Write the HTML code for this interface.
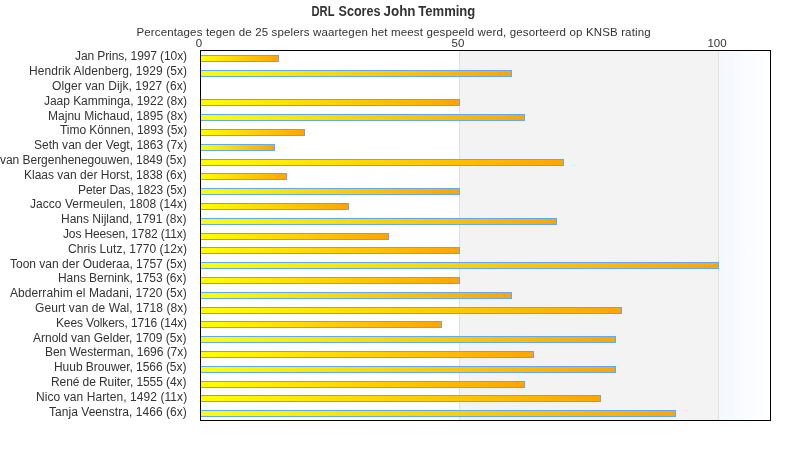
<!DOCTYPE html>
<html><head><meta charset="utf-8"><title>DRL Scores John Temming</title>
<style>
html,body{margin:0;padding:0;background:#fff;}
body{width:790px;height:450px;overflow:hidden;position:relative;font-family:"Liberation Sans",Arial,sans-serif;color:#333;}
.t{position:absolute;white-space:nowrap;line-height:1;will-change:transform;}
.lbl{position:absolute;will-change:transform;white-space:nowrap;line-height:14px;font-size:12px;right:602px;transform-origin:100% 50%;}
.ax{position:absolute;will-change:transform;white-space:nowrap;line-height:12px;font-size:11.5px;}
.bar{position:absolute;height:5px;border:1px solid #62a8fa;background:linear-gradient(to right,#ffff00,#ffa500);}
#frame{position:absolute;left:200px;top:50px;width:569px;height:369px;border:1px solid #000;z-index:5;}
.band{position:absolute;top:51px;height:369px;}
</style></head><body>
<svg width="790" height="24" style="position:absolute;left:0;top:0;will-change:transform"><g font-family="Liberation Sans, Arial, sans-serif" font-weight="bold" font-size="14" fill="#333"><text x="311.5" y="16" textLength="23" lengthAdjust="spacingAndGlyphs">DRL</text><text x="338.5" y="16" textLength="42" lengthAdjust="spacingAndGlyphs">Scores</text><text x="383.5" y="16" textLength="32" lengthAdjust="spacingAndGlyphs">John</text><text x="418.3" y="16" textLength="57" lengthAdjust="spacingAndGlyphs">Temming</text></g></svg>
<div class="t" style="left:0;width:787px;text-align:center;top:27px;font-size:11.5px;transform:translateX(0.10000000000002274px);letter-spacing:0.143px">Percentages tegen de 25 spelers waartegen het meest gespeeld werd, gesorteerd op KNSB rating</div>
<div class="ax" style="left:198.5px;width:40px;margin-left:-20px;text-align:center;top:37px;">0</div>
<div class="ax" style="left:457.5px;width:40px;margin-left:-20px;text-align:center;top:37px;">50</div>
<div class="ax" style="left:717px;width:40px;margin-left:-20px;text-align:center;top:37px;">100</div>
<div class="band" style="left:201px;width:258px;background:#fff"></div>
<div class="band" style="left:459px;width:1px;background:#e0e0e0"></div>
<div class="band" style="left:460px;width:258px;background:#f3f3f3"></div>
<div class="band" style="left:718px;width:1px;background:#e0e0e0"></div>
<div class="band" style="left:719px;width:51px;background:linear-gradient(to right,#f4f8fc,#ffffff)"></div>
<div class="bar" style="left:200px;top:55px;width:77px"></div>
<div class="bar" style="left:200px;top:70px;width:310px"></div>
<div class="bar" style="left:200px;top:99px;width:258px"></div>
<div class="bar" style="left:200px;top:114px;width:323px"></div>
<div class="bar" style="left:200px;top:129px;width:103px"></div>
<div class="bar" style="left:200px;top:144px;width:73px"></div>
<div class="bar" style="left:200px;top:159px;width:362px"></div>
<div class="bar" style="left:200px;top:173px;width:85px"></div>
<div class="bar" style="left:200px;top:188px;width:258px"></div>
<div class="bar" style="left:200px;top:203px;width:147px"></div>
<div class="bar" style="left:200px;top:218px;width:355px"></div>
<div class="bar" style="left:200px;top:233px;width:187px"></div>
<div class="bar" style="left:200px;top:247px;width:258px"></div>
<div class="bar" style="left:200px;top:262px;width:517px"></div>
<div class="bar" style="left:200px;top:277px;width:258px"></div>
<div class="bar" style="left:200px;top:292px;width:310px"></div>
<div class="bar" style="left:200px;top:307px;width:420px"></div>
<div class="bar" style="left:200px;top:321px;width:240px"></div>
<div class="bar" style="left:200px;top:336px;width:414px"></div>
<div class="bar" style="left:200px;top:351px;width:332px"></div>
<div class="bar" style="left:200px;top:366px;width:414px"></div>
<div class="bar" style="left:200px;top:381px;width:323px"></div>
<div class="bar" style="left:200px;top:395px;width:399px"></div>
<div class="bar" style="left:200px;top:410px;width:474px"></div>
<div id="frame"></div>
<div class="lbl" style="top:49px;letter-spacing:-0.100px;right:603.100px">Jan Prins, 1997 (10x)</div>
<div class="lbl" style="top:64px;letter-spacing:0.074px;right:602.926px">Hendrik Aldenberg, 1929 (5x)</div>
<div class="lbl" style="top:79px;letter-spacing:0.083px;right:602.917px">Olger van Dijk, 1927 (6x)</div>
<div class="lbl" style="top:94px;letter-spacing:-0.043px;right:603.043px">Jaap Kamminga, 1922 (8x)</div>
<div class="lbl" style="top:109px;letter-spacing:0.022px;right:602.978px">Majnu Michaud, 1895 (8x)</div>
<div class="lbl" style="top:123px;letter-spacing:-0.048px;right:603.048px">Timo Können, 1893 (5x)</div>
<div class="lbl" style="top:138px;letter-spacing:0.019px;right:602.981px">Seth van der Vegt, 1863 (7x)</div>
<div class="lbl" style="top:153px;letter-spacing:-0.035px;right:604.035px">van Bergenhenegouwen, 1849 (5x)</div>
<div class="lbl" style="top:168px;letter-spacing:0.000px;right:603.000px">Klaas van der Horst, 1838 (6x)</div>
<div class="lbl" style="top:183px;letter-spacing:-0.105px;right:603.105px">Peter Das, 1823 (5x)</div>
<div class="lbl" style="top:197px;letter-spacing:0.038px;right:602.962px">Jacco Vermeulen, 1808 (14x)</div>
<div class="lbl" style="top:212px;letter-spacing:0.000px;right:604.000px">Hans Nijland, 1791 (8x)</div>
<div class="lbl" style="top:227px;letter-spacing:-0.143px;right:603.143px">Jos Heesen, 1782 (11x)</div>
<div class="lbl" style="top:242px;letter-spacing:0.048px;right:602.952px">Chris Lutz, 1770 (12x)</div>
<div class="lbl" style="top:257px;letter-spacing:0.000px;right:603.000px">Toon van der Ouderaa, 1757 (5x)</div>
<div class="lbl" style="top:271px;letter-spacing:-0.045px;right:604.045px">Hans Bernink, 1753 (6x)</div>
<div class="lbl" style="top:286px;letter-spacing:0.067px;right:602.933px">Abderrahim el Madani, 1720 (5x)</div>
<div class="lbl" style="top:301px;letter-spacing:0.077px;right:602.923px">Geurt van de Wal, 1718 (8x)</div>
<div class="lbl" style="top:316px;letter-spacing:-0.130px;right:603.130px">Kees Volkers, 1716 (14x)</div>
<div class="lbl" style="top:331px;letter-spacing:0.000px;right:604.000px">Arnold van Gelder, 1709 (5x)</div>
<div class="lbl" style="top:345px;letter-spacing:-0.043px;right:603.043px">Ben Westerman, 1696 (7x)</div>
<div class="lbl" style="top:360px;letter-spacing:-0.045px;right:604.045px">Huub Brouwer, 1566 (5x)</div>
<div class="lbl" style="top:375px;letter-spacing:-0.083px;right:604.083px">René de Ruiter, 1555 (4x)</div>
<div class="lbl" style="top:390px;letter-spacing:0.077px;right:602.923px">Nico van Harten, 1492 (11x)</div>
<div class="lbl" style="top:405px;letter-spacing:0.042px;right:602.958px">Tanja Veenstra, 1466 (6x)</div>
</body></html>
